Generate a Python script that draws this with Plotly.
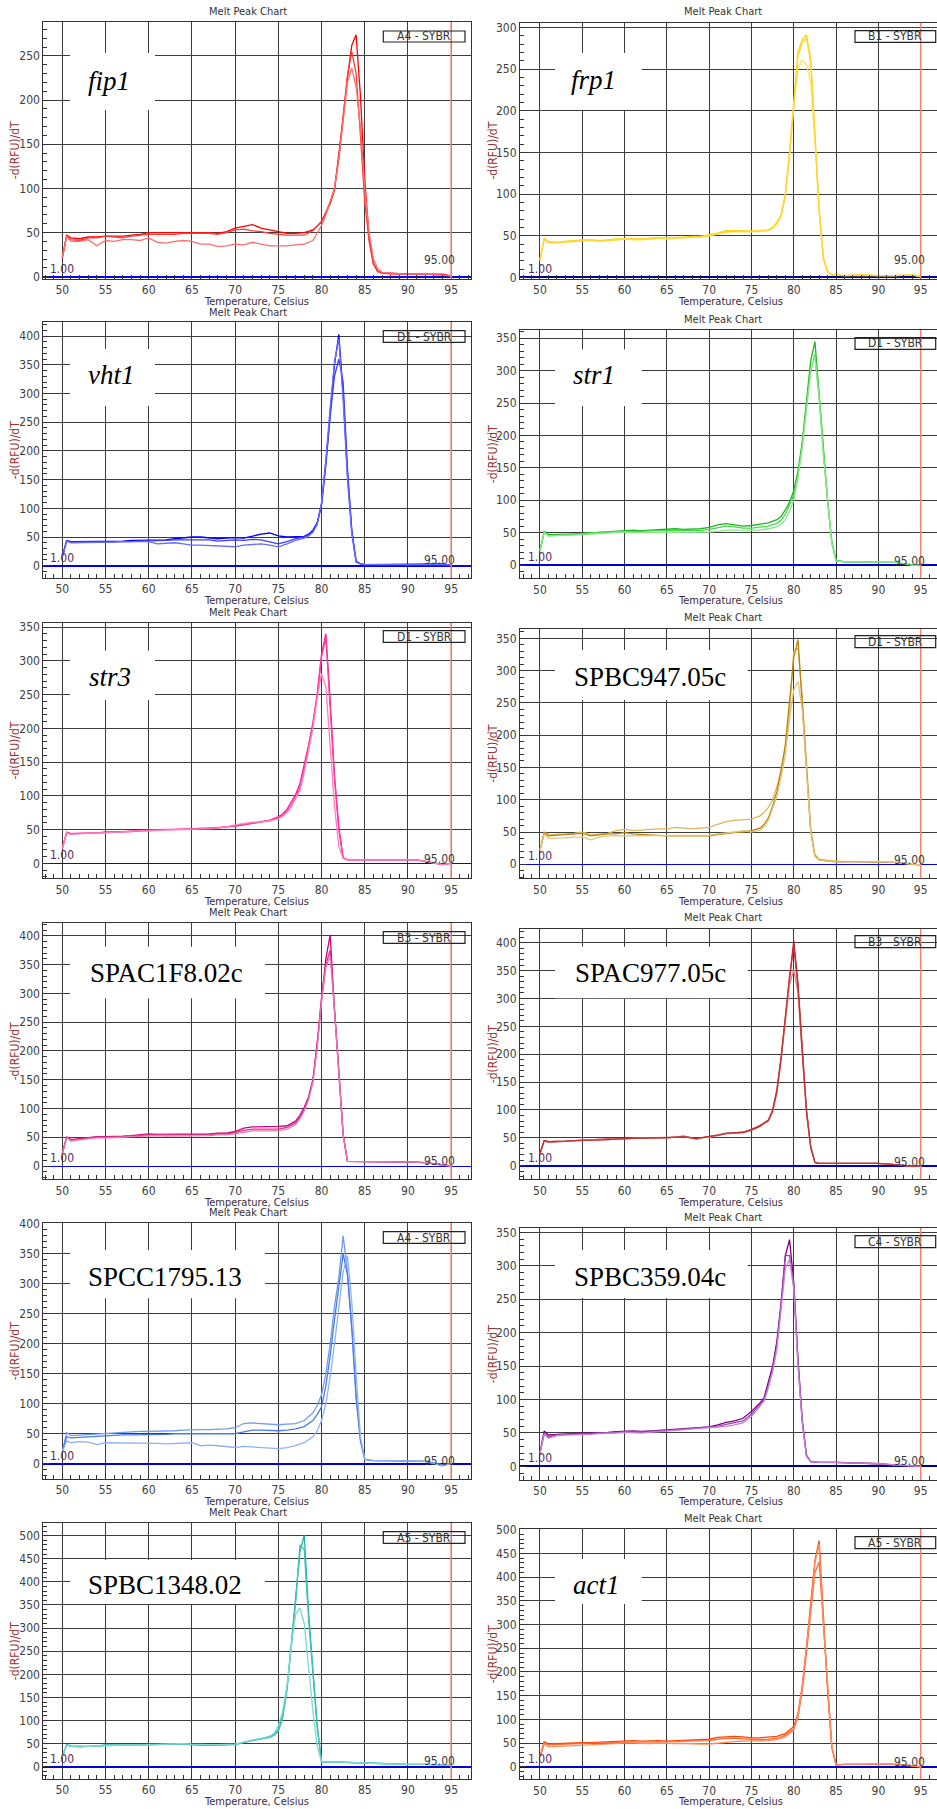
import plotly.graph_objects as go

# ---------------- data (temperature in Celsius, -d(RFU)/dT) ----------------
FIP1_T = [50, 50.5, 51, 52, 53, 54, 55, 56, 57, 58, 59, 60, 61, 62, 63, 64, 65, 66, 67, 68, 69, 70, 71, 72, 73, 74, 75, 76, 77, 78,
          79, 80, 80.5, 81, 81.5, 82, 82.5, 83, 83.5, 84, 84.5, 85, 85.5, 86, 86.5, 87, 88, 90, 92, 94, 95]
FIP1_A = [21, 47, 44, 43, 45, 45, 46, 46, 46, 47, 48, 50, 50, 50, 50, 50, 50, 50, 50, 49, 51, 55, 57, 59, 55, 53, 51, 49, 49, 50,
          53, 62, 72, 83, 98, 137, 180, 225, 262, 274, 205, 110, 45, 15, 6, 4, 4, 3, 3, 3, 1]
FIP1_B = [22, 46, 42, 41, 44, 44, 46, 45, 44, 46, 47, 48, 48, 48, 48, 49, 49, 49, 49, 48, 50, 53, 54, 52, 51, 49, 48, 47, 47, 47,
          52, 63, 73, 85, 100, 135, 182, 228, 255, 230, 160, 85, 40, 14, 6, 4, 3, 3, 3, 2, 1]
FIP1_C = [22, 46, 40, 40, 42, 35, 41, 40, 42, 42, 41, 44, 39, 38, 40, 41, 40, 37, 37, 34, 35, 37, 36, 39, 37, 35, 35, 35, 36, 37,
          41, 58, 70, 84, 100, 132, 175, 220, 236, 215, 170, 100, 50, 20, 9, 5, 4, 3, 3, 2, 1]

FRP1_T = [50, 50.5, 51, 52, 53, 54, 55, 56, 57, 58, 59, 60, 61, 62, 63, 64, 65, 66, 67, 68, 69, 70, 71, 72, 73, 74, 75, 76, 77, 77.5,
          78, 78.5, 79, 79.5, 80, 80.5, 81, 81.5, 82, 82.5, 83, 83.5, 84, 84.5, 85, 86, 88, 90, 92, 94, 95]
FRP1_A = [21, 47, 43, 42, 43, 44, 45, 45, 44, 45, 46, 46, 46, 46, 47, 48, 47, 48, 48, 49, 49, 51, 53, 56, 56, 56, 55, 56, 57, 60,
          66, 75, 100, 150, 215, 270, 285, 291, 262, 175, 82, 22, 7, 3, 3, 2, 3, 2, 2, 3, 1]
FRP1_B = [20, 46, 41, 41, 42, 43, 44, 44, 43, 44, 45, 46, 45, 45, 46, 47, 46, 47, 47, 48, 48, 50, 52, 54, 55, 55, 55, 55, 56, 59,
          64, 73, 97, 145, 205, 250, 261, 255, 235, 165, 78, 22, 7, 3, 3, 2, 2, 2, 2, 3, 1]
FRP1_C = [21, 46, 42, 42, 43, 43, 44, 45, 44, 44, 45, 46, 46, 46, 46, 47, 47, 47, 48, 48, 49, 50, 52, 55, 55, 55, 55, 56, 56, 59,
          65, 74, 98, 148, 210, 265, 282, 287, 258, 172, 80, 24, 7, 3, 3, 2, 3, 2, 2, 3, 1]

VHT1_T = [50, 50.5, 51, 52, 53, 54, 55, 56, 57, 58, 59, 60, 61, 62, 63, 64, 65, 66, 67, 68, 69, 70, 71, 72, 73, 74, 75, 76, 77, 78,
          78.5, 79, 79.5, 80, 80.5, 81, 81.5, 82, 82.5, 83, 83.5, 84, 84.5, 85, 86, 88, 90, 92, 94, 95]
VHT1_A = [16, 44, 42, 42, 43, 43, 43, 43, 43, 44, 44, 45, 44, 45, 47, 49, 50, 50, 48, 47, 48, 49, 48, 52, 55, 57, 52, 50, 50, 51,
          55, 62, 75, 108, 180, 270, 350, 403, 300, 160, 60, 8, 3, 2, 2, 3, 3, 3, 3, 1]
VHT1_B = [15, 43, 41, 41, 41, 42, 42, 42, 42, 42, 43, 43, 43, 44, 45, 45, 46, 46, 45, 43, 44, 45, 44, 46, 45, 42, 38, 42, 47, 50,
          53, 60, 73, 105, 175, 260, 330, 360, 320, 170, 62, 8, 3, 2, 2, 3, 3, 2, 2, 1]
VHT1_C = [15, 43, 40, 40, 40, 41, 41, 41, 42, 42, 42, 42, 38, 39, 40, 38, 36, 36, 35, 35, 34, 33, 36, 37, 38, 36, 33, 38, 44, 48,
          52, 58, 72, 110, 185, 275, 355, 395, 290, 150, 55, 6, 3, 2, 2, 2, 3, 2, 2, 1]

STR1_T = [50, 50.5, 51, 52, 53, 54, 55, 56, 57, 58, 59, 60, 61, 62, 63, 64, 65, 66, 67, 68, 69, 70, 71, 72, 73, 74, 75, 76, 77, 78,
          78.5, 79, 79.5, 80, 80.5, 81, 81.5, 82, 82.5, 83, 83.5, 84, 84.5, 85, 86, 88, 90, 92, 94, 95]
STR1_A = [22, 52, 47, 47, 48, 48, 49, 50, 51, 52, 53, 54, 54, 53, 54, 55, 55, 56, 55, 55, 56, 58, 62, 64, 62, 60, 61, 63, 65, 70,
          75, 85, 97, 115, 145, 190, 250, 315, 345, 262, 180, 100, 35, 7, 5, 5, 5, 4, 0, -1]
STR1_B = [22, 51, 45, 46, 47, 47, 48, 49, 50, 51, 51, 52, 52, 52, 53, 53, 53, 53, 52, 53, 53, 55, 58, 60, 59, 57, 57, 58, 60, 64,
          69, 78, 92, 108, 140, 185, 245, 300, 325, 260, 175, 98, 35, 7, 5, 5, 5, 4, 0, -1]
STR1_C = [22, 50, 45, 45, 46, 46, 47, 48, 49, 50, 50, 51, 50, 50, 50, 51, 51, 51, 50, 50, 50, 51, 52, 54, 54, 54, 53, 54, 56, 59,
          63, 70, 83, 100, 135, 180, 240, 300, 322, 255, 170, 95, 33, 6, 5, 5, 5, 4, 0, -1]

STR3_T = [50, 50.5, 51, 52, 53, 54, 55, 56, 57, 58, 59, 60, 61, 62, 63, 64, 65, 66, 67, 68, 69, 70, 71, 72, 73, 74, 75, 75.5, 76, 76.5,
          77, 77.5, 78, 78.5, 79, 79.5, 80, 80.5, 81, 81.5, 82, 82.5, 83, 84, 86, 88, 90, 91, 92, 93, 94, 95]
STR3_A = [22, 46, 44, 44, 45, 45, 46, 46, 47, 47, 48, 49, 49, 50, 50, 51, 51, 51, 52, 52, 53, 55, 57, 59, 61, 64, 69, 73, 80, 90,
          102, 118, 145, 175, 208, 251, 310, 340, 241, 130, 54, 8, 5, 5, 5, 5, 5, 5, 3, 1, -2, 0]
STR3_B = [22, 46, 44, 44, 45, 45, 46, 46, 47, 48, 48, 49, 50, 50, 51, 51, 51, 52, 52, 52, 54, 56, 58, 60, 61, 63, 67, 71, 77, 86,
          98, 113, 140, 170, 205, 248, 305, 335, 235, 125, 50, 8, 5, 5, 5, 5, 5, 5, 3, 1, -2, 0]
STR3_C = [22, 45, 43, 44, 45, 45, 45, 46, 46, 47, 48, 48, 49, 50, 50, 50, 51, 51, 51, 52, 54, 57, 59, 61, 61, 63, 66, 70, 75, 84,
          95, 108, 135, 165, 200, 245, 281, 262, 180, 85, 25, 7, 5, 5, 5, 5, 5, 5, 3, 1, -2, 0]

SPBC947_T = [50, 50.5, 51, 52, 53, 54, 55, 56, 57, 58, 59, 60, 61, 62, 63, 64, 65, 66, 67, 68, 69, 70, 71, 72, 73, 74, 75, 76, 76.5, 77,
             77.5, 78, 78.5, 79, 79.5, 80, 80.5, 81, 81.5, 82, 82.5, 83, 84, 86, 88, 90, 92, 94, 95]
SPBC947_A = [22, 50, 46, 46, 47, 48, 50, 46, 47, 48, 52, 54, 52, 53, 55, 55, 55, 57, 56, 55, 56, 57, 62, 66, 68, 69, 70, 75, 80, 88,
             100, 120, 145, 180, 235, 330, 335, 260, 150, 55, 15, 8, 6, 4, 4, 4, 3, 0, -1]
SPBC947_B = [22, 49, 44, 45, 45, 46, 48, 44, 46, 47, 47, 49, 47, 46, 45, 44, 44, 44, 44, 44, 44, 44, 46, 48, 49, 50, 52, 56, 62, 72,
             90, 112, 145, 185, 250, 320, 348, 255, 150, 52, 13, 7, 5, 3, 3, 4, 3, 0, -1]
SPBC947_C = [22, 47, 40, 40, 41, 42, 42, 38, 42, 44, 44, 44, 44, 44, 44, 45, 45, 45, 45, 45, 45, 45, 47, 48, 50, 52, 50, 53, 58, 68,
             85, 105, 135, 170, 225, 270, 283, 240, 145, 50, 12, 7, 5, 3, 3, 4, 3, 0, -1]

SPAC1F8_T = [50, 50.5, 51, 52, 53, 54, 55, 56, 57, 58, 59, 60, 61, 62, 63, 64, 65, 66, 67, 68, 69, 70, 71, 72, 73, 74, 75, 76, 77, 77.5,
             78, 78.5, 79, 79.5, 80, 80.5, 81, 81.5, 82, 82.5, 83, 84, 86, 88, 90, 92, 93, 94, 95]
SPAC1F8_A = [22, 51, 46, 48, 50, 51, 51, 51, 52, 53, 54, 56, 55, 55, 55, 55, 56, 56, 56, 57, 57, 60, 66, 68, 68, 68, 69, 70, 78, 88,
             102, 120, 150, 215, 290, 360, 402, 270, 165, 55, 8, 8, 8, 7, 7, 6, 4, 1, 0]
SPAC1F8_B = [22, 50, 44, 47, 49, 50, 50, 50, 51, 52, 53, 55, 55, 54, 54, 54, 55, 55, 55, 56, 56, 58, 62, 64, 64, 64, 64, 67, 75, 85,
             98, 118, 148, 210, 295, 350, 376, 275, 165, 56, 8, 8, 8, 7, 7, 6, 4, 1, 0]
SPAC1F8_C = [22, 50, 44, 46, 48, 49, 49, 49, 50, 51, 52, 53, 53, 52, 52, 52, 53, 53, 53, 54, 54, 56, 59, 61, 61, 61, 61, 64, 72, 82,
             96, 115, 145, 205, 285, 345, 365, 270, 160, 54, 8, 8, 8, 7, 7, 6, 4, 1, 0]

SPAC977_T = [50, 50.5, 51, 52, 53, 54, 55, 56, 57, 58, 59, 60, 61, 62, 63, 64, 65, 66, 67, 68, 68.5, 69, 70, 71, 72, 73, 74, 75, 76, 76.5,
             77, 77.5, 78, 78.5, 79, 79.5, 80, 80.5, 81, 81.5, 82, 82.5, 83, 85, 88, 90, 92, 94, 95]
SPAC977_A = [22, 45, 43, 43, 44, 45, 46, 46, 47, 48, 48, 49, 49, 49, 50, 50, 50, 51, 53, 50, 48, 50, 52, 55, 58, 59, 60, 65, 72, 77,
             82, 100, 136, 195, 265, 345, 404, 327, 210, 100, 35, 6, 4, 4, 4, 4, 2, -1, 0]
SPAC977_B = [22, 44, 42, 43, 44, 44, 45, 46, 47, 47, 48, 48, 49, 50, 50, 49, 50, 52, 52, 50, 48, 50, 51, 54, 57, 58, 59, 64, 70, 76,
             80, 97, 130, 190, 255, 325, 351, 310, 200, 95, 32, 6, 4, 4, 4, 4, 2, -1, 0]
SPAC977_C = [22, 45, 43, 43, 44, 45, 46, 46, 46, 47, 48, 49, 49, 50, 50, 50, 51, 51, 52, 49, 48, 50, 52, 55, 58, 59, 60, 64, 71, 76,
             81, 98, 133, 192, 262, 340, 395, 320, 205, 98, 33, 6, 4, 4, 4, 4, 2, -1, 0]

SPCC1795_T = [50, 50.5, 51, 52, 53, 54, 55, 56, 57, 58, 59, 60, 61, 62, 63, 64, 65, 66, 67, 68, 69, 70, 71, 72, 73, 74, 75, 76, 77, 78,
              79, 79.5, 80, 80.5, 81, 81.5, 82, 82.5, 83, 83.5, 84, 84.5, 85, 86, 88, 90, 92, 94, 95]
SPCC1795_A = [20, 52, 47, 48, 49, 50, 51, 52, 53, 53, 54, 54, 54, 55, 55, 56, 57, 57, 57, 57, 58, 60, 67, 68, 67, 66, 65, 66, 67, 72,
              85, 97, 115, 150, 200, 262, 310, 380, 320, 230, 115, 40, 7, 5, 5, 4, 4, -2, 0]
SPCC1795_B = [20, 45, 43, 44, 45, 46, 47, 47, 48, 48, 48, 49, 49, 49, 50, 50, 50, 50, 50, 50, 50, 50, 53, 56, 56, 55, 55, 56, 58, 62,
              72, 82, 95, 130, 180, 240, 300, 350, 315, 225, 110, 38, 7, 5, 5, 4, 4, -2, 0]
SPCC1795_C = [20, 38, 35, 37, 36, 32, 35, 35, 34, 34, 35, 35, 34, 33, 34, 35, 35, 30, 31, 30, 28, 27, 29, 28, 28, 27, 25, 27, 30, 35,
              45, 55, 72, 100, 145, 200, 260, 320, 347, 270, 150, 45, 8, 5, 5, 4, 4, -4, 0]

SPBC359_T = [50, 50.5, 51, 52, 53, 54, 55, 56, 57, 58, 59, 60, 61, 62, 63, 64, 65, 66, 67, 68, 69, 70, 71, 72, 73, 74, 75, 75.5, 76, 76.5,
             77, 77.5, 78, 78.5, 79, 79.5, 80, 80.5, 81, 81.5, 82, 83, 85, 88, 90, 92, 94, 95]
SPBC359_A = [20, 53, 47, 48, 49, 49, 50, 50, 50, 51, 52, 53, 53, 52, 53, 54, 55, 56, 57, 57, 58, 59, 62, 66, 68, 72, 82, 88, 95, 103,
             125, 150, 187, 245, 315, 339, 275, 160, 70, 17, 7, 6, 6, 5, 4, 2, 0, 0]
SPBC359_B = [20, 50, 44, 47, 48, 48, 49, 49, 50, 50, 51, 52, 52, 52, 52, 53, 54, 55, 55, 56, 57, 58, 60, 63, 65, 68, 78, 85, 92, 100,
             120, 145, 180, 240, 315, 315, 270, 155, 68, 16, 7, 6, 6, 5, 4, 2, 0, 0]
SPBC359_C = [20, 48, 42, 46, 47, 47, 48, 48, 49, 49, 50, 51, 50, 50, 51, 52, 53, 53, 54, 55, 56, 57, 58, 60, 62, 65, 75, 82, 90, 98,
             118, 142, 175, 235, 295, 310, 265, 150, 65, 15, 7, 6, 6, 5, 4, 2, 0, 0]

SPBC1348_T = [50, 50.5, 51, 52, 53, 54, 55, 56, 57, 58, 59, 60, 61, 62, 63, 64, 65, 66, 67, 68, 69, 70, 71, 72, 73, 74, 74.5, 75, 75.5, 76,
              76.5, 77, 77.5, 78, 78.5, 79, 79.5, 80, 80.5, 82, 85, 88, 90, 92, 94, 95]
SPBC1348_A = [22, 48, 45, 44, 44, 45, 47, 47, 47, 48, 48, 48, 48, 49, 50, 50, 48, 47, 46, 47, 48, 48, 52, 57, 60, 65, 70, 80, 110, 170,
              265, 360, 465, 501, 335, 210, 90, 10, 10, 10, 8, 6, 5, 5, 3, 3]
SPBC1348_B = [22, 47, 44, 43, 44, 45, 46, 47, 47, 47, 48, 49, 49, 49, 49, 48, 48, 47, 47, 48, 48, 49, 53, 58, 61, 63, 68, 76, 105, 165,
              260, 355, 480, 470, 320, 200, 85, 10, 10, 10, 8, 6, 5, 5, 3, 3]
SPBC1348_C = [22, 46, 44, 43, 44, 45, 46, 46, 47, 47, 47, 48, 48, 49, 50, 50, 49, 48, 48, 48, 48, 49, 53, 58, 61, 66, 72, 88, 120, 175,
              260, 330, 343, 310, 216, 120, 45, 10, 10, 10, 8, 6, 5, 5, 3, 3]

ACT1_T = [50, 50.5, 51, 52, 53, 54, 55, 56, 57, 58, 59, 60, 61, 62, 63, 64, 65, 66, 67, 68, 69, 70, 71, 72, 73, 74, 75, 76, 77, 78,
          79, 80, 80.5, 81, 81.5, 82, 82.5, 83, 83.5, 84, 84.5, 85, 86, 88, 90, 92, 93, 95]
ACT1_A = [21, 53, 48, 49, 50, 50, 51, 51, 52, 52, 53, 55, 55, 54, 55, 55, 54, 55, 56, 56, 57, 58, 62, 63, 64, 63, 61, 61, 62, 64,
          70, 85, 112, 170, 253, 340, 435, 477, 309, 160, 42, 4, 5, 5, 6, 5, 4, 0]
ACT1_B = [21, 50, 46, 47, 48, 48, 49, 50, 50, 51, 52, 52, 52, 52, 53, 53, 52, 53, 54, 54, 55, 55, 58, 60, 60, 59, 57, 57, 58, 60,
          66, 80, 105, 160, 240, 320, 410, 432, 300, 158, 40, 4, 5, 5, 6, 5, 4, 0]
ACT1_C = [21, 48, 42, 43, 44, 45, 46, 47, 48, 48, 49, 50, 50, 49, 49, 50, 49, 49, 49, 48, 48, 48, 50, 52, 53, 54, 54, 54, 55, 57,
          63, 78, 108, 168, 250, 335, 430, 470, 305, 162, 42, 4, 5, 5, 6, 5, 4, 0]

GENES = ["fip1", "frp1", "vht1", "str1", "str3", "SPBC947.05c",
         "SPAC1F8.02c", "SPAC977.05c", "SPCC1795.13", "SPBC359.04c", "SPBC1348.02", "act1"]
WELLS = ["A4 - SYBR", "B1 - SYBR", "D1 - SYBR", "D1 - SYBR", "D1 - SYBR", "D1 - SYBR",
         "B3 - SYBR", "B3 - SYBR", "A4 - SYBR", "C4 - SYBR", "A5 - SYBR", "A5 - SYBR"]
ITALIC = [True, True, True, True, True, False, False, False, False, False, False, True]
SERIES = [
    (FIP1_T, [FIP1_A, FIP1_B, FIP1_C]),
    (FRP1_T, [FRP1_A, FRP1_B, FRP1_C]),
    (VHT1_T, [VHT1_A, VHT1_B, VHT1_C]),
    (STR1_T, [STR1_A, STR1_B, STR1_C]),
    (STR3_T, [STR3_A, STR3_B, STR3_C]),
    (SPBC947_T, [SPBC947_A, SPBC947_B, SPBC947_C]),
    (SPAC1F8_T, [SPAC1F8_A, SPAC1F8_B, SPAC1F8_C]),
    (SPAC977_T, [SPAC977_A, SPAC977_B, SPAC977_C]),
    (SPCC1795_T, [SPCC1795_A, SPCC1795_B, SPCC1795_C]),
    (SPBC359_T, [SPBC359_A, SPBC359_B, SPBC359_C]),
    (SPBC1348_T, [SPBC1348_A, SPBC1348_B, SPBC1348_C]),
    (ACT1_T, [ACT1_A, ACT1_B, ACT1_C]),
]

# ---------------- styles / geometry ----------------
COLORS = [
    ["#ff0000", "#ff3a3a", "#ff6c6c"],
    ["#ffcf00", "#ffe25a", "#ffd632"],
    ["#0000ff", "#3b3bff", "#6a6aff"],
    ["#1fb51f", "#4fd64f", "#86e886"],
    ["#ff1493", "#ff3da2", "#ff7fbf"],
    ["#dcb561", "#b8860b", "#e3c27d"],
    ["#cc0077", "#d9338f", "#e677b4"],
    ["#b22222", "#d98585", "#c43434"],
    ["#6f9cf0", "#4a7be8", "#8fb2f5"],
    ["#800080", "#a040b0", "#c283d0"],
    ["#20b2aa", "#3cc2b8", "#80d8d0"],
    ["#ff4500", "#ff6a33", "#ff8c5a"],
]

W, H = 937, 1809
FONT = "Liberation Sans Narrow, Arial Narrow, DejaVu Sans Condensed, sans-serif"
SERIF = "Liberation Serif, Times New Roman, serif"


def fx(x):
    return x / W


def fy(y):
    return 1 - y / H


COLS = [
    dict(x0=43.3, x1=470.5, xr=[47.80, 97.24], ylab_x=15, title_x=248, xtitle_x=256, well=(383.3, 465.0), ymirror=True),
    dict(x0=520.0, x1=937.0, xr=[47.64, 96.93], ylab_x=493, title_x=723, xtitle_x=730, well=(855.0, 935.7), ymirror=False),
]

# per panel: top, bottom (px), y range, title y, x-title y, well box y, gene box, gene label centre, zero line, 95 label shift
GEOM = [
    dict(top=22.0, bot=278.5, yr=[-2.0, 288.4], ty=12, xty=301, wy=(31, 42), box=(70, 155, 53, 110), lab=(108.5, 80.8), zw=2, zc="#0000ff", s95=17),
    dict(top=22.7, bot=278.5, yr=[-1.4, 305.6], ty=12, xty=301, wy=(30.7, 42.3), box=(555, 641.7, 53, 110), lab=(593, 79.8), zw=2, zc="#00008b", s95=17),
    dict(top=322.3, bot=578.0, yr=[-21.4, 424.0], ty=312, xty=601, wy=(330.7, 342.3), box=(70, 155, 349, 406), lab=(111.7, 374.8), zw=2, zc="#0000ee", s95=6),
    dict(top=330.0, bot=578.3, yr=[-20.5, 362.8], ty=319.3, xty=601, wy=(337.7, 349.3), box=(555, 641.7, 349.3, 406), lab=(594, 374.8), zw=2, zc="#0000cc", s95=4),
    dict(top=622.7, bot=878.3, yr=[-22.2, 356.5], ty=612, xty=901, wy=(630.7, 642.3), box=(70, 155, 650.7, 700), lab=(110, 676.5), zw=1, zc="#0000ff", s95=4),
    dict(top=629.0, bot=878.3, yr=[-21.7, 364.4], ty=617.7, xty=901, wy=(635.7, 647.7), box=(555, 747.7, 650, 700), lab=(649.5, 676.5), zw=1.2, zc="#0000ee", s95=4),
    dict(top=923.3, bot=1179.3, yr=[-23.1, 422.0], ty=912.7, xty=1202, wy=(931.7, 943.3), box=(70, 265, 946.7, 998.3), lab=(166, 972.5), zw=1.2, zc="#0000ee", s95=5),
    dict(top=929.0, bot=1179.3, yr=[-24.4, 424.6], ty=917.7, xty=1202, wy=(935.7, 947.7), box=(555, 747.7, 946.7, 998.3), lab=(650, 972.5), zw=2, zc="#0000cc", s95=4),
    dict(top=1223.3, bot=1479.0, yr=[-25.5, 401.0], ty=1212.7, xty=1501, wy=(1231.7, 1243.3), box=(70, 265, 1250, 1298.3), lab=(165.3, 1276.5), zw=2, zc="#0000dd", s95=3),
    dict(top=1228.3, bot=1480.0, yr=[-20.3, 356.0], ty=1217.7, xty=1501, wy=(1235.7, 1247.7), box=(555, 747.7, 1250, 1298), lab=(649.5, 1276.5), zw=2, zc="#00008b", s95=5),
    dict(top=1523.3, bot=1779.0, yr=[-26.6, 526.8], ty=1512.7, xty=1801.0, wy=(1531.7, 1543.3), box=(70, 265, 1560, 1604), lab=(165.3, 1584.8), zw=2, zc="#0000dd", s95=6),
    dict(top=1529.3, bot=1779.3, yr=[-26.5, 501.0], ty=1518.3, xty=1801.0, wy=(1536.7, 1548.7), box=(555, 641.7, 1559, 1604), lab=(596.7, 1584.8), zw=2, zc="#0000cc", s95=5),
]

fig = go.Figure()
layout = dict(
    template="none",
    width=W, height=H, margin=dict(l=0, r=0, t=0, b=0, pad=0, autoexpand=False),
    paper_bgcolor="white", plot_bgcolor="white", showlegend=False,
    font=dict(family=FONT, size=11, color="#333333"),
)
shapes, annotations = [], []
GRID = "#3c3c3c"
TICKC = "#333333"

for i in range(12):
    col = COLS[i % 2]
    g = GEOM[i]
    n = "" if i == 0 else str(i + 1)
    xa, ya = "x" + n, "y" + n
    T, curves = SERIES[i]
    for k, vals in enumerate(curves):
        fig.add_trace(go.Scatter(x=T, y=vals, mode="lines", xaxis=xa, yaxis=ya,
                                 line=dict(color=COLORS[i][k], width=1.3), hoverinfo="skip"))

    layout["xaxis" + n] = dict(
        domain=[fx(col["x0"]), fx(col["x1"])], range=col["xr"], anchor=ya, automargin=False,
        tickmode="linear", tick0=50, dtick=5, ticks="inside", ticklen=6, tickcolor=TICKC,
        showgrid=True, gridcolor=GRID, gridwidth=1, zeroline=False,
        showline=True, linecolor="#333333", linewidth=1, mirror=True,
        tickfont=dict(family=FONT, size=12, color="#404040"),
        minor=dict(tick0=50, dtick=1, ticks="inside", ticklen=4, tickcolor=TICKC, showgrid=False),
        fixedrange=True,
    )
    layout["yaxis" + n] = dict(
        domain=[fy(g["bot"]), fy(g["top"])], range=g["yr"], anchor=xa, automargin=False,
        tickmode="linear", tick0=0, dtick=50, ticks="inside", ticklen=6, tickcolor=TICKC,
        showgrid=True, gridcolor=GRID, gridwidth=1,
        zeroline=True, zerolinecolor=g["zc"], zerolinewidth=g["zw"],
        showline=True, linecolor="#333333", linewidth=1, mirror=col["ymirror"],
        tickfont=dict(family=FONT, size=12, color="#404040"),
        minor=dict(tick0=0, dtick=10, ticks="inside", ticklen=4, tickcolor=TICKC, showgrid=False),
        fixedrange=True,
    )

    # red 95 C marker line
    shapes.append(dict(type="line", xref=xa, yref=ya + " domain", x0=95, x1=95, y0=0, y1=1,
                       line=dict(color="#f4826e", width=1.5), layer="above"))
    # white box behind gene name
    bx0, bx1, by0, by1 = g["box"]
    shapes.append(dict(type="rect", xref="paper", yref="paper", x0=fx(bx0), x1=fx(bx1),
                       y0=fy(by1), y1=fy(by0), fillcolor="white", line=dict(width=0), layer="above"))
    # well label box
    wx0, wx1 = col["well"]
    shapes.append(dict(type="rect", xref="paper", yref="paper", x0=fx(wx0), x1=fx(wx1),
                       y0=fy(g["wy"][1]), y1=fy(g["wy"][0]), line=dict(color="#222222", width=1.2),
                       fillcolor="rgba(0,0,0,0)", layer="above"))

    name = GENES[i]
    annotations += [
        dict(text="Melt Peak Chart", xref="paper", yref="paper", x=fx(col["title_x"]), y=fy(g["ty"]),
             showarrow=False, xanchor="center", yanchor="middle", font=dict(family=FONT, size=11, color="#333333")),
        dict(text="Temperature, Celsius", xref="paper", yref="paper", x=fx(col["xtitle_x"]), y=fy(g["xty"]),
             showarrow=False, xanchor="center", yanchor="middle", font=dict(family=FONT, size=11, color="#3a2a40")),
        dict(text="-d(RFU)/dT", xref="paper", yref="paper", x=fx(col["ylab_x"]), y=fy((g["top"] + g["bot"]) / 2),
             textangle=-90, showarrow=False, xanchor="center", yanchor="middle",
             font=dict(family=FONT, size=12, color="#993333")),
        dict(text=("<i>%s</i>" % name) if ITALIC[i] else name, xref="paper", yref="paper",
             x=fx(g["lab"][0]), y=fy(g["lab"][1]), showarrow=False, xanchor="center", yanchor="middle",
             font=dict(family=SERIF, size=27, color="#000000")),
        dict(text=WELLS[i], xref="paper", yref="paper", x=fx((wx0 + wx1) / 2), y=fy((g["wy"][0] + g["wy"][1]) / 2),
             showarrow=False, xanchor="center", yanchor="middle", font=dict(family=FONT, size=12, color="#333333")),
        dict(text="1.00", xref=xa, yref=ya, x=50, y=0, yshift=8, showarrow=False, xanchor="center", yanchor="middle",
             font=dict(family=FONT, size=12, color="#5a2a5a")),
        dict(text="95.00", xref=xa, yref=ya, x=93.62, y=0, yshift=g["s95"], showarrow=False, xanchor="center",
             yanchor="middle", font=dict(family=FONT, size=12, color="#3a3a3a")),
    ]

layout["shapes"] = shapes
layout["annotations"] = annotations
fig.update_layout(**layout)
fig.write_html("out.html", config={"displayModeBar": False},
               post_script="document.body.style.margin='0';document.body.style.overflow='hidden';")
